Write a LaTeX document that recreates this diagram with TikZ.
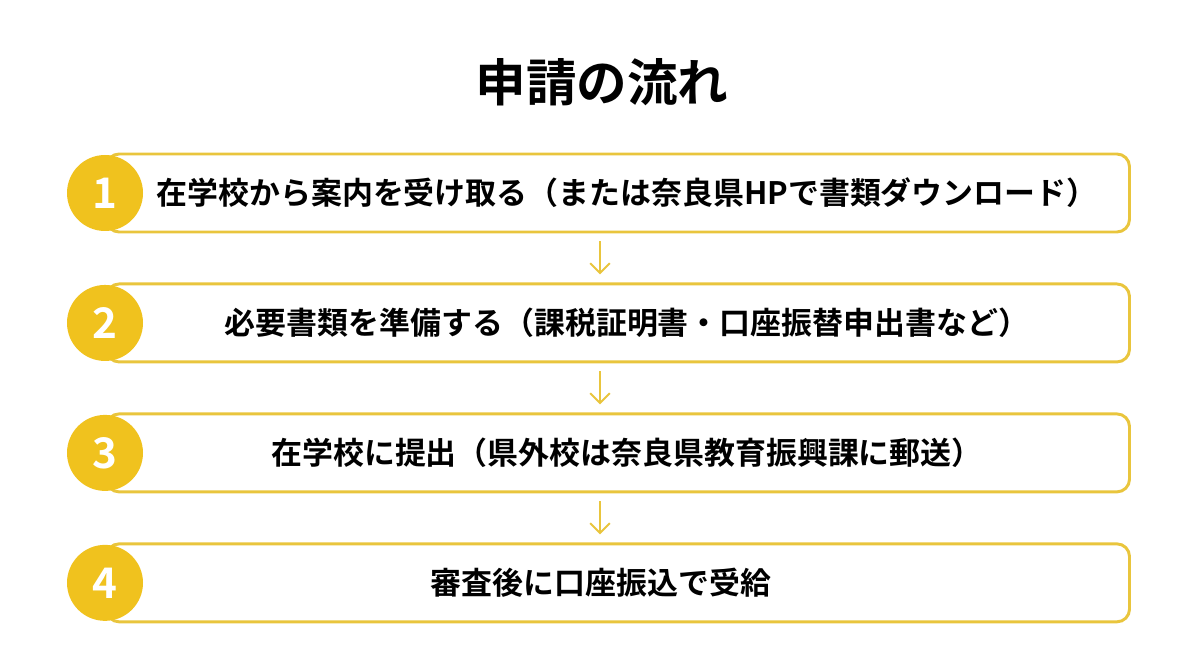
\documentclass[tikz,border=0pt]{standalone}
\usepackage{fontspec}
\setmainfont{Noto Sans CJK JP Bold}
\usetikzlibrary{positioning,arrows.meta,calc}
\definecolor{stepline}{HTML}{E9C53D}
\definecolor{stepfill}{HTML}{F0C21E}
\begin{document}
\begin{tikzpicture}[>={Straight Barb[length=7pt,width=14pt]},
  stepbox/.style={draw=stepline,line width=2.1pt,rounded corners=9pt,fill=white,
    minimum width=25.575cm,minimum height=1.95cm,font=\fontsize{22}{26}\selectfont,text=black,
    execute at begin node=\hspace{0.45cm}},
  stepnum/.style={circle,fill=stepfill,minimum size=1.9cm,inner sep=0pt,
    text=white,font=\fontsize{30}{34}\selectfont},
  flow/.style={->,draw=stepline,line width=1.4pt},
  node distance=1.225cm]
  \useasboundingbox (0,0) rectangle (30,-16.75);
  \node[font=\fontsize{36}{40}\selectfont] (title) at (15.05,-2.05) {申請の流れ};
  \node[stepbox] (b1) at (15.45,-4.825) {在学校から案内を受け取る（または奈良県HPで書類ダウンロード）};
  \node[stepbox,below=of b1] (b2) {必要書類を準備する（課税証明書・口座振替申出書など）};
  \node[stepbox,below=of b2] (b3) {在学校に提出（県外校は奈良県教育振興課に郵送）};
  \node[stepbox,below=of b3,execute at begin node=\hspace{-1.3cm}] (b4) {審査後に口座振込で受給};
  \foreach \i in {1,...,4} {\node[stepnum] (n\i) at (2.625,0 |- b\i) {\i};}
  \foreach \i/\j in {1/2,2/3,3/4}
    {\draw[flow] ([xshift=-0.45cm,yshift=-0.2cm]b\i.south) -- ([xshift=-0.45cm,yshift=0.2cm]b\j.north);}
\end{tikzpicture}
\end{document}
